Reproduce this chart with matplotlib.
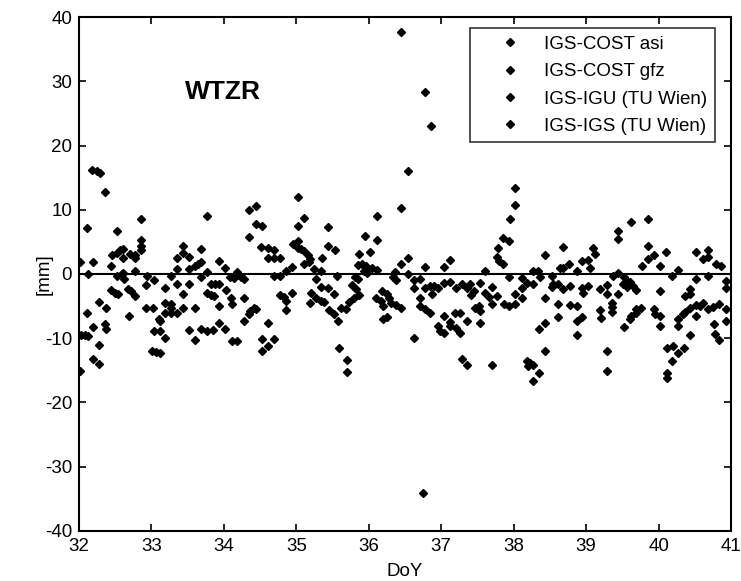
import matplotlib.pyplot as plt
import numpy as np

plt.rcParams['font.family'] = ['Liberation Sans', 'DejaVu Sans']
plt.rcParams['axes.unicode_minus'] = False

series_names = ["IGS-COST asi", "IGS-COST gfz", "IGS-IGU (TU Wien)", "IGS-IGS (TU Wien)"]

# day of year / difference in mm (all series drawn in black)
doy = [
    32.174, 32.243, 32.289, 32.358, 32.115, 32.014, 32.197, 32.119, 32.518, 32.853,
    32.449, 32.518, 32.564, 32.610, 32.610, 32.702, 32.770, 32.779, 32.853, 32.862,
    32.862, 32.440, 32.518, 32.587, 32.624, 32.610, 32.770, 32.945, 32.931, 33.036,
    32.440, 32.495, 32.541, 32.679, 32.715, 32.770, 32.280, 32.367, 32.115, 32.692,
    32.931, 33.027, 33.183, 33.275, 33.353, 33.435, 33.435, 33.518, 33.353, 33.518,
    33.596, 33.641, 33.687, 33.687, 33.770, 33.770, 33.687, 33.353, 33.518, 33.435,
    33.770, 33.183, 33.275, 33.275, 33.183, 33.275, 33.353, 33.435, 33.596, 33.100,
    33.114, 33.036, 33.114, 33.183, 33.518, 33.596, 33.687, 33.770, 32.028, 32.083,
    32.119, 32.197, 32.358, 32.367, 32.275, 32.197, 32.275, 32.014, 33.009, 33.068,
    33.114,
    33.939, 34.017, 34.091, 34.136, 34.182, 34.214, 34.237, 34.274, 33.825, 33.871,
    33.939, 33.816, 33.861, 34.031, 34.100, 34.109, 33.939, 34.274, 34.421, 34.366,
    34.352, 34.444, 34.274, 34.604, 33.939, 34.017, 33.848, 34.109, 34.182, 34.522,
    34.604, 34.522, 34.687, 34.352, 34.444, 34.352, 34.444, 34.522, 34.512, 34.604,
    34.687, 34.604, 34.687, 34.778, 34.696, 34.778, 34.856, 34.934, 34.778, 34.833,
    34.856, 34.856, 34.934, 35.026, 35.109, 35.026, 34.948, 35.026, 35.063, 35.109,
    35.154, 35.191, 35.109, 35.177, 35.026, 35.246, 35.269, 35.338, 35.352, 35.439,
    35.439, 35.530, 35.347, 35.439, 35.521, 35.567, 35.200, 35.191, 35.269, 35.338,
    35.384, 35.452, 35.521, 35.576, 35.590,
    36.438, 36.108, 35.943, 36.108, 36.016, 35.865, 35.851, 35.911, 35.957, 35.980,
    36.048, 36.108, 35.934, 35.980, 36.539, 36.438, 36.539, 36.355, 36.337, 36.369,
    36.782, 37.034, 37.117, 35.805, 35.851, 35.773, 35.819, 36.621, 36.704, 36.621,
    36.782, 36.851, 36.897, 36.952, 36.874, 37.034, 37.126, 37.208, 37.286, 37.355,
    35.613, 35.681, 35.727, 35.796, 35.865, 36.094, 36.186, 36.255, 36.163, 36.200,
    36.278, 36.300, 36.369, 36.438, 36.200, 36.255, 36.704, 36.713, 36.782, 36.851,
    37.034, 37.126, 37.195, 37.263, 37.355, 36.952, 36.988, 37.034, 37.126, 37.208,
    37.263, 36.621, 35.695, 35.695, 37.286, 37.355,
    36.439, 36.782, 36.860, 36.539, 36.745,
    38.021, 38.021, 37.943, 37.851, 37.929, 37.778, 37.769, 37.791, 37.851, 37.608,
    37.929, 37.530, 37.402, 37.448, 37.411, 37.608, 37.700, 37.654, 37.769, 37.700,
    37.516, 37.470, 37.539, 37.530, 37.860, 37.929, 38.021, 38.021, 38.112, 38.112,
    38.112, 38.181, 38.273, 38.273, 38.342, 38.365, 38.433, 38.525, 38.525, 38.640,
    38.686, 38.686, 38.768, 38.869, 38.938, 39.029, 39.098, 39.121, 39.052, 38.539,
    38.617, 38.686, 38.777, 38.938, 39.029, 38.961, 38.433, 38.617, 38.777, 38.869,
    38.617, 38.938, 38.869, 38.433, 38.355, 38.869, 38.433, 38.181, 38.227, 38.273,
    38.204, 38.355, 38.273, 37.700,
    39.442, 39.442, 39.612, 39.855, 39.855, 39.932, 39.855, 39.777, 40.024, 40.107,
    40.267, 40.189, 40.519, 40.680, 40.611, 40.680, 40.794, 40.863, 40.519, 40.680,
    40.932, 40.932, 39.442, 39.373, 39.520, 39.557, 39.602, 39.511, 39.557, 39.648,
    39.694, 39.190, 39.281, 39.281, 39.442, 40.024, 40.359, 40.428, 40.428, 39.350,
    39.350, 39.350, 39.190, 39.199, 39.694, 39.763, 39.694, 39.625, 39.602, 39.529,
    39.932, 39.946, 40.015, 40.024, 40.267, 40.336, 40.359, 40.428, 40.519, 40.565,
    40.611, 40.680, 40.749, 40.840, 40.932, 40.519, 40.267, 40.758, 40.772, 40.840,
    40.932, 40.428, 40.345, 40.267, 40.198, 40.116, 40.189, 40.116, 40.116, 39.281,
    39.281,
]

mm = [
    16.25, 15.99, 15.68, 12.71, 7.14, 1.88, 1.88, -0.05, 6.72, 8.54,
    2.97, 3.33, 3.70, 3.96, 2.45, 3.18, 2.97, 2.45, 3.70, 4.38,
    5.26, 1.25, -0.31, -0.05, -0.73, 0.21, 0.47, -0.31, -1.77, -0.99,
    -2.55, -2.92, -3.18, -2.29, -2.66, -3.44, -4.32, -5.26, -6.14, -6.56,
    -5.26, -5.26, -2.24, -0.31, 2.55, 4.38, 3.33, 2.71, 0.73, 0.73,
    1.25, 1.51, 1.88, 3.86, 9.06, 0.37, -0.42, -1.61, -1.61, -3.18,
    -3.02, -4.48, -4.74, -5.26, -6.04, -6.04, -6.04, -5.26, -5.26, -6.98,
    -7.34, -8.91, -8.91, -9.95, -8.65, -10.21, -8.49, -8.80, -9.43, -9.53,
    -9.69, -8.23, -7.76, -8.49, -11.09, -13.18, -14.01, -15.05, -12.03, -12.19,
    -12.34,
    2.03, 0.89, -0.42, -0.57, 0.37, -0.16, -0.47, -0.83, -1.61, -1.51,
    -1.51, -3.28, -3.44, -2.55, -3.70, -4.63, -5.00, -3.70, -5.36, -5.78,
    -6.30, -5.52, -7.24, -7.60, -7.60, -8.49, -8.65, -10.36, -10.36, -10.05,
    -11.25, -12.03, -10.05, 9.95, 10.63, 5.78, 7.76, 7.50, 4.22, 4.01,
    3.70, 2.55, 2.55, 2.55, -0.31, -0.31, 0.47, 1.09, -3.28, -3.59,
    -4.22, -5.68, -2.92, 11.93, 8.65, 7.45, 4.74, 5.16, 3.86, 3.60,
    2.97, 2.29, 1.62, 1.93, 4.12, 0.73, -0.83, 0.47, 2.55, 7.24,
    4.38, 3.70, -2.03, -2.13, -3.18, -0.31, -2.92, -4.48, -3.70, -4.22,
    -4.32, -5.68, -6.30, -7.24, -11.51,
    10.21, 8.96, 5.94, 5.26, 3.49, 3.07, 1.41, 1.62, 1.25, 0.73,
    0.89, 0.57, 0.47, 0.21, 2.55, 1.51, 0.05, 0.37, -0.47, -0.99,
    1.09, 1.09, 2.14, -0.47, -0.83, -1.72, -2.39, -0.99, -0.83, -2.13,
    -2.13, -1.87, -1.87, -2.13, -3.18, -1.35, -1.20, -2.13, -1.51, -2.13,
    -5.26, -5.52, -4.32, -3.70, -3.28, -3.70, -2.66, -3.18, -4.22, -5.00,
    -3.80, -4.48, -4.84, -5.26, -6.93, -6.66, -3.70, -5.00, -5.52, -6.04,
    -6.56, -7.45, -6.04, -6.04, -7.34, -8.12, -8.91, -9.17, -8.12, -8.38,
    -9.17, -9.95, -13.33, -15.26, -13.18, -14.11,
    37.6, 28.28, 23.07, 15.99, -34.1,
    13.39, 10.78, 8.54, 5.57, 5.16, 4.01, 2.66, 2.03, 1.51, 0.47,
    -0.47, -1.35, -1.61, -2.66, -3.28, -2.92, -2.03, -3.59, -3.44, -4.74,
    -5.00, -5.36, -5.78, -7.60, -4.74, -5.00, -4.63, -3.18, -3.70, -2.24,
    -0.57, -1.35, -1.51, 0.47, 0.47, -0.47, 2.97, -0.31, -2.03, 0.99,
    4.22, 0.99, 1.51, 0.47, 2.03, 2.14, 4.12, 3.07, 0.99, -1.61,
    -1.61, -2.39, -1.87, -2.13, -1.87, -2.92, -3.70, -4.74, -4.84, -5.00,
    -6.72, -6.72, -7.24, -7.60, -8.49, -9.43, -12.03, -13.59, -13.85, -14.11,
    -14.37, -15.42, -16.72, -14.11,
    6.72, 5.42, 8.02, 8.54, 4.38, 2.97, 2.29, 1.25, 1.25, 3.49,
    0.57, -0.31, 3.49, 3.70, 2.29, 2.66, 1.51, 1.25, -0.83, -0.31,
    -1.09, -2.13, 0.21, -0.31, -0.47, -1.09, -1.20, -1.61, -2.03, -1.87,
    -2.55, -2.39, -1.72, -3.18, -3.18, -2.66, -3.44, -2.39, -3.18, -4.48,
    -5.16, -5.88, -5.68, -6.82, -5.52, -5.26, -6.04, -6.56, -7.08, -8.28,
    -5.52, -6.20, -6.56, -8.02, -7.08, -6.20, -5.88, -5.26, -4.84, -5.00,
    -4.48, -5.52, -5.16, -4.63, -5.52, -6.56, -8.12, -7.86, -9.32, -10.21,
    -7.34, -9.53, -11.51, -12.29, -11.25, -11.51, -13.59, -15.42, -16.20, -12.03,
    -15.05,
]

doy = np.array(doy)
mm = np.array(mm)

fig = plt.figure(figsize=(7.41, 5.81), dpi=100)
ax = fig.add_axes([0.1066, 0.0861, 0.8800, 0.8846])

# the four solutions are all plotted with the same black diamonds
for i, name in enumerate(series_names):
    ax.plot(doy[i::4], mm[i::4], linestyle='none', marker='D', markersize=4.4,
            color='black', label=name)

ax.axhline(0, color='black', linewidth=1.5)

ax.set_xlim(32, 41)
ax.set_ylim(-40, 40)
ax.set_xticks(np.arange(32, 42, 1))
ax.set_yticks(np.arange(-40, 50, 10))
ax.tick_params(direction='in', top=True, right=True, length=5, width=1.2,
               labelsize=13.5)
ax.tick_params(axis='x', pad=5)
ax.tick_params(axis='y', pad=5)
for sp in ax.spines.values():
    sp.set_linewidth(1.5)

ax.set_xlabel('DoY', fontsize=13.5)
ax.set_ylabel('[mm]', fontsize=13.5)
ax.xaxis.set_label_coords(0.5, -0.062)
ax.yaxis.set_label_coords(-0.041, 0.5)

ax.text(33.46, 28.3, 'WTZR', fontsize=19, fontweight='bold', va='center', ha='left')

leg = ax.legend(loc='upper right', bbox_to_anchor=(0.9755, 0.9786), borderaxespad=0,
                numpoints=1, fontsize=13.5, frameon=True, fancybox=False,
                edgecolor='black', handlelength=3.4, handletextpad=0.15,
                labelspacing=0.55, borderpad=0.4, markerscale=0.85)
leg.get_frame().set_linewidth(1.2)

fig.savefig('out.png', dpi=100)
